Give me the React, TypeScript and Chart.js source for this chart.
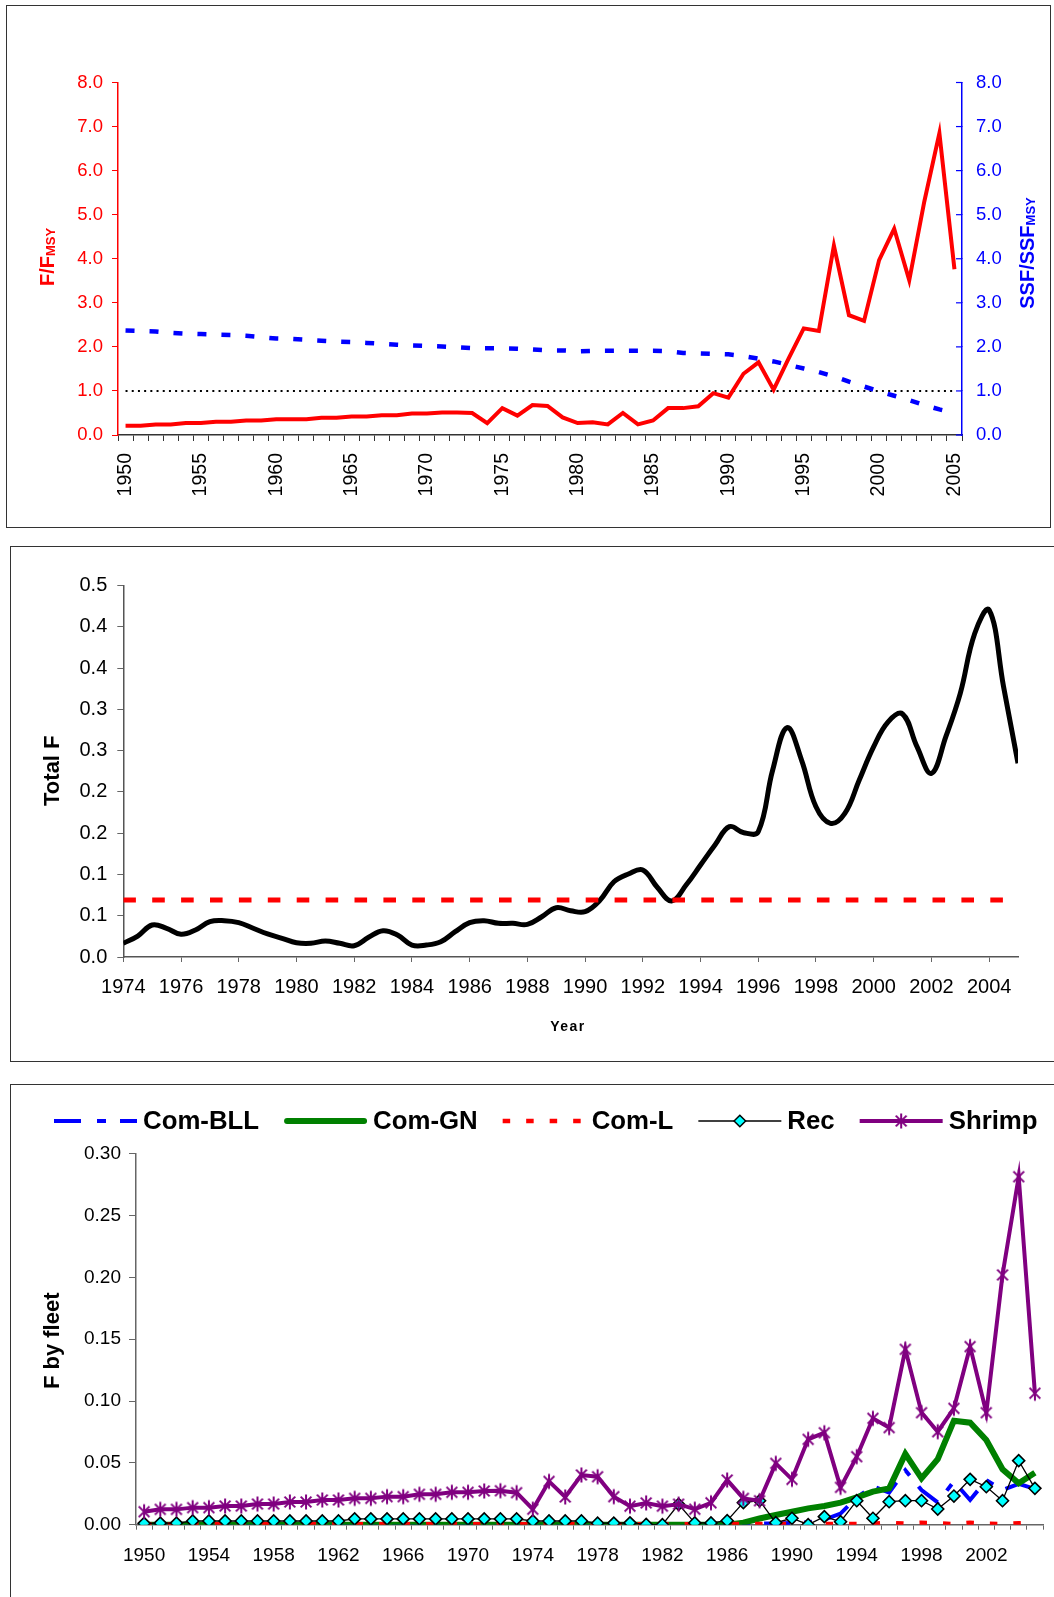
import React, { useEffect, useRef } from 'react';
import { Chart, registerables } from 'chart.js';

Chart.register(...registerables);

const FONT = '"Liberation Sans", Arial, Helvetica, sans-serif';

// ---------------- Panel 1: F/FMSY and SSF/SSFMSY ----------------
const years1 = [
  '1950', '1951', '1952', '1953', '1954', '1955', '1956', '1957', '1958', '1959',
  '1960', '1961', '1962', '1963', '1964', '1965', '1966', '1967', '1968', '1969',
  '1970', '1971', '1972', '1973', '1974', '1975', '1976', '1977', '1978', '1979',
  '1980', '1981', '1982', '1983', '1984', '1985', '1986', '1987', '1988', '1989',
  '1990', '1991', '1992', '1993', '1994', '1995', '1996', '1997', '1998', '1999',
  '2000', '2001', '2002', '2003', '2004', '2005',
];
const labeledYears1 = ['1950', '1955', '1960', '1965', '1970', '1975', '1980', '1985', '1990', '1995', '2000', '2005'];
const fOverFmsy = [
  0.21, 0.21, 0.24, 0.24, 0.27, 0.27, 0.30, 0.30, 0.33, 0.33,
  0.36, 0.36, 0.36, 0.39, 0.39, 0.42, 0.42, 0.45, 0.45, 0.49,
  0.49, 0.51, 0.51, 0.50, 0.27, 0.61, 0.44, 0.68, 0.66, 0.40,
  0.27, 0.29, 0.24, 0.50, 0.24, 0.33, 0.61, 0.61, 0.65, 0.95,
  0.85, 1.39, 1.65, 1.03, 1.74, 2.42, 2.36, 4.30, 2.72, 2.59,
  3.97, 4.68, 3.51, 5.30, 6.85, 3.76,
];
const ssfOverSsfmsy = [
  2.37, 2.36, 2.35, 2.32, 2.30, 2.29, 2.28, 2.27, 2.25, 2.22,
  2.19, 2.18, 2.16, 2.14, 2.12, 2.11, 2.09, 2.07, 2.05, 2.03,
  2.02, 2.01, 1.99, 1.97, 1.97, 1.97, 1.96, 1.94, 1.92, 1.92,
  1.90, 1.91, 1.91, 1.91, 1.91, 1.91, 1.90, 1.86, 1.85, 1.84,
  1.83, 1.79, 1.73, 1.67, 1.59, 1.51, 1.43, 1.33, 1.21, 1.10,
  0.99, 0.89, 0.79, 0.68, 0.58, 0.50,
];
const refLine1 = 1.0;
const yTicks1 = [0, 1, 2, 3, 4, 5, 6, 7, 8];

// ---------------- Panel 2: Total F ----------------
const totalFYears = [
  1974, 1974.5, 1975, 1975.5, 1976, 1976.5, 1977, 1977.5, 1978, 1978.5,
  1979, 1979.5, 1980, 1980.5, 1981, 1981.5, 1982, 1982.5, 1983, 1983.5,
  1984, 1984.5, 1985, 1985.5, 1986, 1986.5, 1987, 1987.5, 1988, 1988.5,
  1989, 1989.5, 1990, 1990.5, 1991, 1991.5, 1992, 1992.5, 1993, 1993.5,
  1994, 1994.5, 1995, 1995.5, 1996, 1996.5, 1997, 1997.5, 1998, 1998.5,
  1999, 1999.5, 2000, 2000.5, 2001, 2001.5, 2002, 2002.5, 2003, 2003.5,
  2004, 2004.5, 2005,
];
const totalF = [
  0.0166, 0.0254, 0.0388, 0.0348, 0.0275, 0.0327, 0.0428, 0.0440, 0.0416, 0.0348,
  0.0279, 0.0227, 0.0173, 0.0166, 0.0194, 0.0166, 0.0137, 0.0239, 0.0319, 0.0267,
  0.0145, 0.0145, 0.0185, 0.0307, 0.0416, 0.0440, 0.0408, 0.0408, 0.0396, 0.0488,
  0.0597, 0.0561, 0.0549, 0.0682, 0.0912, 0.1006, 0.1054, 0.0845, 0.0679, 0.0872,
  0.1115, 0.1357, 0.1580, 0.1506, 0.1518, 0.2266, 0.2780, 0.2387, 0.1820, 0.1620,
  0.1740, 0.2145, 0.2549, 0.2850, 0.2945, 0.2549, 0.2226, 0.2670, 0.3195, 0.3920,
  0.4205, 0.3275, 0.2347,
];
const fmsyValue = 0.069;
const fmsyStartYear = 1974;
const fmsyEndYear = 2004.5;
const xTicks2 = [1974, 1976, 1978, 1980, 1982, 1984, 1986, 1988, 1990, 1992, 1994, 1996, 1998, 2000, 2002, 2004];
const yTicks2 = [0, 0.05, 0.1, 0.15, 0.2, 0.25, 0.3, 0.35, 0.4, 0.45];
const yTickLabels2 = ['0.0', '0.1', '0.1', '0.2', '0.2', '0.3', '0.3', '0.4', '0.4', '0.5'];

// ---------------- Panel 3: F by fleet ----------------
const years3 = years1;
const labeledYears3 = ['1950', '1954', '1958', '1962', '1966', '1970', '1974', '1978', '1982', '1986', '1990', '1994', '1998', '2002'];
const comBLL = [
  0, 0, 0, 0, 0, 0, 0, 0, 0, 0,
  0, 0, 0, 0, 0, 0, 0, 0, 0, 0,
  0, 0, 0, 0, 0, 0, 0, 0, 0, 0,
  0, 0, 0, 0, 0, 0, 0, 0.0005, 0.0010, 0.0010,
  0.0015, 0.0020, 0.0040, 0.0090, 0.0220, 0.0310, 0.0260, 0.0440, 0.0280, 0.0180,
  0.0350, 0.0200, 0.0360, 0.0280, 0.0330, 0.0290,
];
const comGN = [
  0, 0, 0, 0, 0, 0, 0, 0, 0, 0,
  0, 0, 0, 0, 0, 0, 0, 0, 0, 0,
  0, 0, 0, 0, 0, 0, 0, 0, 0, 0,
  0, 0, 0, 0, 0, 0, 0, 0.0016, 0.0050, 0.0078,
  0.0105, 0.0132, 0.0151, 0.0178, 0.0221, 0.0267, 0.0294, 0.0572, 0.0375, 0.0529,
  0.0841, 0.0825, 0.0685, 0.0448, 0.0335, 0.0420,
];
const comL = [
  0.0003, 0.0003, 0.0003, 0.0003, 0.0003, 0.0003, 0.0003, 0.0003, 0.0003, 0.0003,
  0.0003, 0.0003, 0.0003, 0.0003, 0.0003, 0.0003, 0.0003, 0.0003, 0.0003, 0.0003,
  0.0003, 0.0003, 0.0003, 0.0003, 0.0003, 0.0003, 0.0003, 0.0003, 0.0003, 0.0003,
  0.0003, 0.0003, 0.0003, 0.0003, 0.0003, 0.0003, 0.0005, 0.0005, 0.0005, 0.0008,
  0.0005, 0.0005, 0.0005, 0.0005, 0.0005, 0.0008, 0.0016, 0.0008, 0.0016, 0.0012,
  0.0004, 0.0016, 0.0008, 0.0006, 0.0012, 0.0016,
];
const rec = [
  0.0011, 0.0013, 0.0013, 0.0030, 0.0030, 0.0030, 0.0030, 0.0030, 0.0030, 0.0030,
  0.0030, 0.0030, 0.0030, 0.0047, 0.0047, 0.0047, 0.0047, 0.0047, 0.0047, 0.0047,
  0.0047, 0.0047, 0.0047, 0.0047, 0.0030, 0.0030, 0.0030, 0.0030, 0.0012, 0.0013,
  0.0015, 0.0002, 0.0000, 0.0165, 0.0014, 0.0014, 0.0032, 0.0178, 0.0194, 0.0016,
  0.0052, 0.0000, 0.0065, 0.0024, 0.0194, 0.0052, 0.0186, 0.0194, 0.0194, 0.0127,
  0.0232, 0.0367, 0.0307, 0.0194, 0.0518, 0.0294,
];
const shrimp = [
  0.0105, 0.0124, 0.0124, 0.0138, 0.0138, 0.0151, 0.0151, 0.0167, 0.0167, 0.0184,
  0.0184, 0.0200, 0.0200, 0.0213, 0.0213, 0.0227, 0.0227, 0.0246, 0.0246, 0.0262,
  0.0262, 0.0273, 0.0275, 0.0259, 0.0125, 0.0350, 0.0224, 0.0402, 0.0388, 0.0227,
  0.0150, 0.0176, 0.0150, 0.0166, 0.0125, 0.0177, 0.0361, 0.0213, 0.0194, 0.0496,
  0.0367, 0.0690, 0.0744, 0.0302, 0.0550, 0.0860, 0.0785, 0.1418, 0.0906, 0.0752,
  0.0941, 0.1440, 0.0906, 0.2020, 0.2814, 0.1063,
];
const yTicks3 = [0, 0.05, 0.1, 0.15, 0.2, 0.25, 0.3];

// ---------------- helpers ----------------
function drawRotatedTitle(ctx: CanvasRenderingContext2D, main: string, sub: string, baselineX: number, centerY: number, color: string, size: number, subSize: number) {
  ctx.save();
  ctx.fillStyle = color;
  ctx.font = `bold ${size}px ${FONT}`;
  const w1 = ctx.measureText(main).width;
  ctx.font = `bold ${subSize}px ${FONT}`;
  const w2 = sub ? ctx.measureText(sub).width : 0;
  const total = w1 + w2;
  ctx.translate(baselineX, centerY);
  ctx.rotate(-Math.PI / 2);
  ctx.textBaseline = 'alphabetic';
  ctx.textAlign = 'left';
  ctx.font = `bold ${size}px ${FONT}`;
  ctx.fillText(main, -total / 2, 0);
  if (sub) {
    ctx.font = `bold ${subSize}px ${FONT}`;
    ctx.fillText(sub, -total / 2 + w1, 1);
  }
  ctx.restore();
}

function makeAsterisk(color: string): HTMLCanvasElement {
  const c = document.createElement('canvas');
  c.width = 20;
  c.height = 20;
  const g = c.getContext('2d')!;
  g.strokeStyle = color;
  g.lineWidth = 2;
  g.lineCap = 'butt';
  const cx = 10, cy = 10, r = 7.6, d = r * Math.SQRT1_2;
  g.beginPath();
  g.moveTo(cx - d, cy - d); g.lineTo(cx + d, cy + d);
  g.moveTo(cx + d, cy - d); g.lineTo(cx - d, cy + d);
  g.moveTo(cx, cy - r); g.lineTo(cx, cy + r);
  g.stroke();
  return c;
}

function drawDiamond(ctx: CanvasRenderingContext2D, x: number, y: number, r: number) {
  ctx.beginPath();
  ctx.moveTo(x - r, y);
  ctx.lineTo(x, y - r);
  ctx.lineTo(x + r, y);
  ctx.lineTo(x, y + r);
  ctx.closePath();
  ctx.fillStyle = '#00FFFF';
  ctx.fill();
  ctx.lineWidth = 1.5;
  ctx.strokeStyle = '#000';
  ctx.stroke();
}

export default function App() {
  const ref1 = useRef<HTMLCanvasElement>(null);
  const ref2 = useRef<HTMLCanvasElement>(null);
  const ref3 = useRef<HTMLCanvasElement>(null);

  useEffect(() => {
    document.body.style.overflow = 'hidden';
    const tickFont1 = { family: FONT, size: 18.5 };
    const tickFont1x = { family: FONT, size: 19.5 };
    const tickFont2 = { family: FONT, size: 20 };
    const tickFont3 = { family: FONT, size: 19 };

    // ---------- Chart 1 ----------
    const titles1 = {
      id: 'titles1',
      afterDraw(chart: any) {
        const ctx = chart.ctx as CanvasRenderingContext2D;
        drawRotatedTitle(ctx, 'F/F', 'MSY', 54, 257, '#FF0000', 20, 13);
        drawRotatedTitle(ctx, 'SSF/SSF', 'MSY', 1034, 253, '#0000FF', 20, 13);
        // inward ticks on the right axis
        const ys = chart.scales.y1;
        const x = chart.chartArea.right;
        ctx.save();
        ctx.strokeStyle = '#0000FF';
        ctx.lineWidth = 1.2;
        for (const t of ys.ticks) {
          const py = ys.getPixelForValue(t.value);
          ctx.beginPath();
          ctx.moveTo(x - 6, py);
          ctx.lineTo(x, py);
          ctx.stroke();
        }
        ctx.restore();
      },
    };

    const c1 = new Chart(ref1.current!, {
      type: 'line',
      data: {
        labels: years1,
        datasets: [
          { label: 'F/FMSY', data: fOverFmsy, borderColor: '#FF0000', borderWidth: 4, pointRadius: 0, yAxisID: 'y', tension: 0, order: 1 },
          { label: 'SSF/SSFMSY', data: ssfOverSsfmsy, borderColor: '#0000FF', borderWidth: 4.5, borderDash: [9, 15], pointRadius: 0, yAxisID: 'y1', order: 2 },
          { label: 'ref', data: years1.map(() => refLine1), borderColor: '#000', borderWidth: 2, borderDash: [2, 4.2], pointRadius: 0, yAxisID: 'y', order: 3 },
        ],
      },
      options: {
        animation: false,
        responsive: false,
        devicePixelRatio: 1,
        layout: { padding: { top: 82.5, left: 0, right: 0, bottom: 0 } },
        plugins: { legend: { display: false }, tooltip: { enabled: false } },
        scales: {
          x: {
            type: 'category',
            offset: true,
            grid: { offset: true, drawOnChartArea: false, color: '#333', tickLength: 6, lineWidth: 1 },
            border: { color: '#333', width: 1.5 },
            ticks: {
              autoSkip: false, minRotation: 90, maxRotation: 90, padding: 12, color: '#000', font: tickFont1x,
              callback: (_v: any, i: number) => (labeledYears1.includes(years1[i]) ? years1[i] : ''),
            },
            afterFit: (s: any) => { s.height = 105; },
          },
          y: {
            position: 'left', min: 0, max: 8,
            afterBuildTicks: (s: any) => { s.ticks = yTicks1.map((v) => ({ value: v })); },
            ticks: { callback: (v: any) => Number(v).toFixed(1), color: '#FF0000', font: tickFont1, padding: 9 },
            grid: { drawOnChartArea: false, color: '#FF0000', tickLength: 6 },
            border: { color: '#FF0000', width: 1.5 },
            afterFit: (s: any) => { s.width = 118; },
          },
          y1: {
            position: 'right', min: 0, max: 8,
            afterBuildTicks: (s: any) => { s.ticks = yTicks1.map((v) => ({ value: v })); },
            ticks: { callback: (v: any) => Number(v).toFixed(1), color: '#0000FF', font: tickFont1, padding: 14 },
            grid: { drawOnChartArea: false, color: '#0000FF', tickLength: 0 },
            border: { color: '#0000FF', width: 1.5 },
            afterFit: (s: any) => { s.width = 92; },
          },
        },
      } as any,
      plugins: [titles1],
    });

    // ---------- Chart 2 ----------
    const titles2 = {
      id: 'titles2',
      afterDraw(chart: any) {
        const ctx = chart.ctx as CanvasRenderingContext2D;
        drawRotatedTitle(ctx, 'Total F', '', 59, 230.7, '#000', 22, 22);
        ctx.save();
        ctx.fillStyle = '#000';
        ctx.font = `bold 14px ${FONT}`;
        (ctx as any).letterSpacing = '1.5px';
        ctx.textAlign = 'center';
        ctx.textBaseline = 'alphabetic';
        ctx.fillText('Year', 568, 490.7);
        ctx.restore();
      },
    };

    const c2 = new Chart(ref2.current!, {
      type: 'line',
      data: {
        datasets: [
          {
            label: 'F msy', data: [{ x: fmsyStartYear, y: fmsyValue }, { x: fmsyEndYear, y: fmsyValue }],
            borderColor: '#FF0000', borderWidth: 5, borderDash: [12.6, 16.3], pointRadius: 0, order: 1,
          },
          {
            label: 'Total F', data: totalFYears.map((x, i) => ({ x, y: totalF[i] })),
            borderColor: '#000', borderWidth: 5, tension: 0.4, pointRadius: 0, order: 2,
          },
        ],
      },
      options: {
        animation: false,
        responsive: false,
        devicePixelRatio: 1,
        layout: { padding: { top: 45.7, left: 0, right: 36, bottom: 0 } },
        plugins: { legend: { display: false }, tooltip: { enabled: false } },
        scales: {
          x: {
            type: 'linear', min: 1974, max: 2005,
            afterBuildTicks: (s: any) => { s.ticks = xTicks2.map((v) => ({ value: v })); },
            ticks: { callback: (v: any) => String(v), color: '#000', font: tickFont2, padding: 13, maxRotation: 0, autoSkip: false },
            grid: { drawOnChartArea: false, color: '#666', tickLength: 5 },
            border: { color: '#555', width: 1.5 },
            afterFit: (s: any) => { s.height = 103; },
          },
          y: {
            min: 0, max: 0.45,
            afterBuildTicks: (s: any) => { s.ticks = yTicks2.map((v) => ({ value: v })); },
            ticks: { callback: (_v: any, i: number) => yTickLabels2[i], color: '#000', font: tickFont2, padding: 10 },
            grid: { drawOnChartArea: false, color: '#666', tickLength: 6 },
            border: { color: '#555', width: 1.5 },
            afterFit: (s: any) => { s.width = 123.3; },
          },
        },
      } as any,
      plugins: [titles2],
    });

    // ---------- Chart 3 ----------
    const asterisk = makeAsterisk('#800080');
    const legendItems = [
      { text: 'Com-BLL', color: '#0000FF', width: 4, dash: [27, 16, 9, 14], cap: 'butt', marker: '' },
      { text: 'Com-GN', color: '#008000', width: 6, dash: [], cap: 'round', marker: '' },
      { text: 'Com-L', color: '#FF0000', width: 4.5, dash: [7.5, 16], cap: 'butt', marker: '' },
      { text: 'Rec', color: '#000', width: 1.5, dash: [], cap: 'butt', marker: 'diamond' },
      { text: 'Shrimp', color: '#800080', width: 4, dash: [], cap: 'butt', marker: 'asterisk' },
    ];
    const titles3 = {
      id: 'titles3',
      afterDraw(chart: any) {
        const ctx = chart.ctx as CanvasRenderingContext2D;
        drawRotatedTitle(ctx, 'F by fleet', '', 59, 260.8, '#000', 22, 22);
        ctx.save();
        ctx.font = `bold 25.8px ${FONT}`;
        let x = 54;
        const lineY = 41;
        const baseY = 48.5;
        const sampleLen = 83;
        for (const it of legendItems) {
          ctx.save();
          ctx.strokeStyle = it.color;
          ctx.lineWidth = it.width;
          ctx.lineCap = it.cap as CanvasLineCap;
          ctx.setLineDash(it.dash);
          ctx.beginPath();
          ctx.moveTo(x + (it.cap === 'round' ? 3 : 0), lineY);
          ctx.lineTo(x + sampleLen - (it.cap === 'round' ? 3 : 0), lineY);
          ctx.stroke();
          ctx.restore();
          const mx = x + sampleLen / 2;
          if (it.marker === 'diamond') drawDiamond(ctx, mx, lineY, 5.8);
          if (it.marker === 'asterisk') ctx.drawImage(asterisk, mx - asterisk.width / 2, lineY - asterisk.height / 2);
          ctx.fillStyle = '#000';
          ctx.textAlign = 'left';
          ctx.textBaseline = 'alphabetic';
          const tx = x + sampleLen + 6;
          ctx.fillText(it.text, tx, baseY);
          x = tx + ctx.measureText(it.text).width + 25;
        }
        ctx.restore();
      },
    };

    const c3 = new Chart(ref3.current!, {
      type: 'line',
      data: {
        labels: years3,
        datasets: [
          { label: 'Com-BLL', data: comBLL, borderColor: '#0000FF', borderWidth: 4, borderDash: [26, 14, 8, 14], pointRadius: 0, order: 5 },
          { label: 'Com-GN', data: comGN, borderColor: '#008000', borderWidth: 6, pointRadius: 0, order: 4 },
          { label: 'Com-L', data: comL, borderColor: '#FF0000', borderWidth: 4.5, borderDash: [7.5, 16], pointRadius: 0, order: 3 },
          {
            label: 'Rec', data: rec, borderColor: '#000', borderWidth: 1.3, pointStyle: 'rectRot', pointRadius: 6,
            pointBackgroundColor: '#00FFFF', pointBorderColor: '#000', pointBorderWidth: 1.6, order: 2,
          },
          { label: 'Shrimp', data: shrimp, borderColor: '#800080', borderWidth: 4, pointStyle: asterisk, pointRadius: 7, order: 1 },
        ],
      },
      options: {
        animation: false,
        responsive: false,
        devicePixelRatio: 1,
        layout: { padding: { top: 73.7, left: 0, right: 9.5, bottom: 0 } },
        plugins: { legend: { display: false }, tooltip: { enabled: false } },
        scales: {
          x: {
            type: 'category',
            offset: true,
            grid: { offset: true, drawOnChartArea: false, color: '#666', tickLength: 5, lineWidth: 1 },
            border: { color: '#666', width: 1.5 },
            ticks: {
              autoSkip: false, maxRotation: 0, minRotation: 0, padding: 15, color: '#000', font: tickFont3,
              callback: (_v: any, i: number) => (labeledYears3.includes(years3[i]) ? years3[i] : ''),
            },
            afterFit: (s: any) => { s.height = 72.3; },
          },
          y: {
            min: 0, max: 0.3,
            afterBuildTicks: (s: any) => { s.ticks = yTicks3.map((v) => ({ value: v })); },
            ticks: { callback: (v: any) => Number(v).toFixed(2), color: '#000', font: tickFont3, padding: 8 },
            grid: { drawOnChartArea: false, color: '#666', tickLength: 7 },
            border: { color: '#666', width: 1.5 },
            afterFit: (s: any) => { s.width = 136; },
          },
        },
      } as any,
      plugins: [titles3],
    });

    return () => {
      c1.destroy();
      c2.destroy();
      c3.destroy();
    };
  }, []);

  const abs = (l: number, t: number, w: number, h: number): React.CSSProperties => ({
    position: 'absolute', left: l, top: t, width: w, height: h,
  });

  return (
    <div>
      <div style={{ ...abs(6, 5, 1045, 523), border: '1.5px solid #333', boxSizing: 'border-box' }} />
      <div style={{ ...abs(9.5, 545.5, 1044.5, 516.5), border: '1.5px solid #333', borderRight: 'none', boxSizing: 'border-box' }} />
      <div style={{ ...abs(9.5, 1083.5, 1044.5, 513.5), border: '1.5px solid #333', borderRight: 'none', borderBottom: 'none', boxSizing: 'border-box' }} />
      <canvas ref={ref1} width={1054} height={540} style={abs(0, 0, 1054, 540)} />
      <canvas ref={ref2} width={1054} height={520} style={abs(0, 540, 1054, 520)} />
      <canvas ref={ref3} width={1054} height={517} style={abs(0, 1080, 1054, 517)} />
    </div>
  );
}
